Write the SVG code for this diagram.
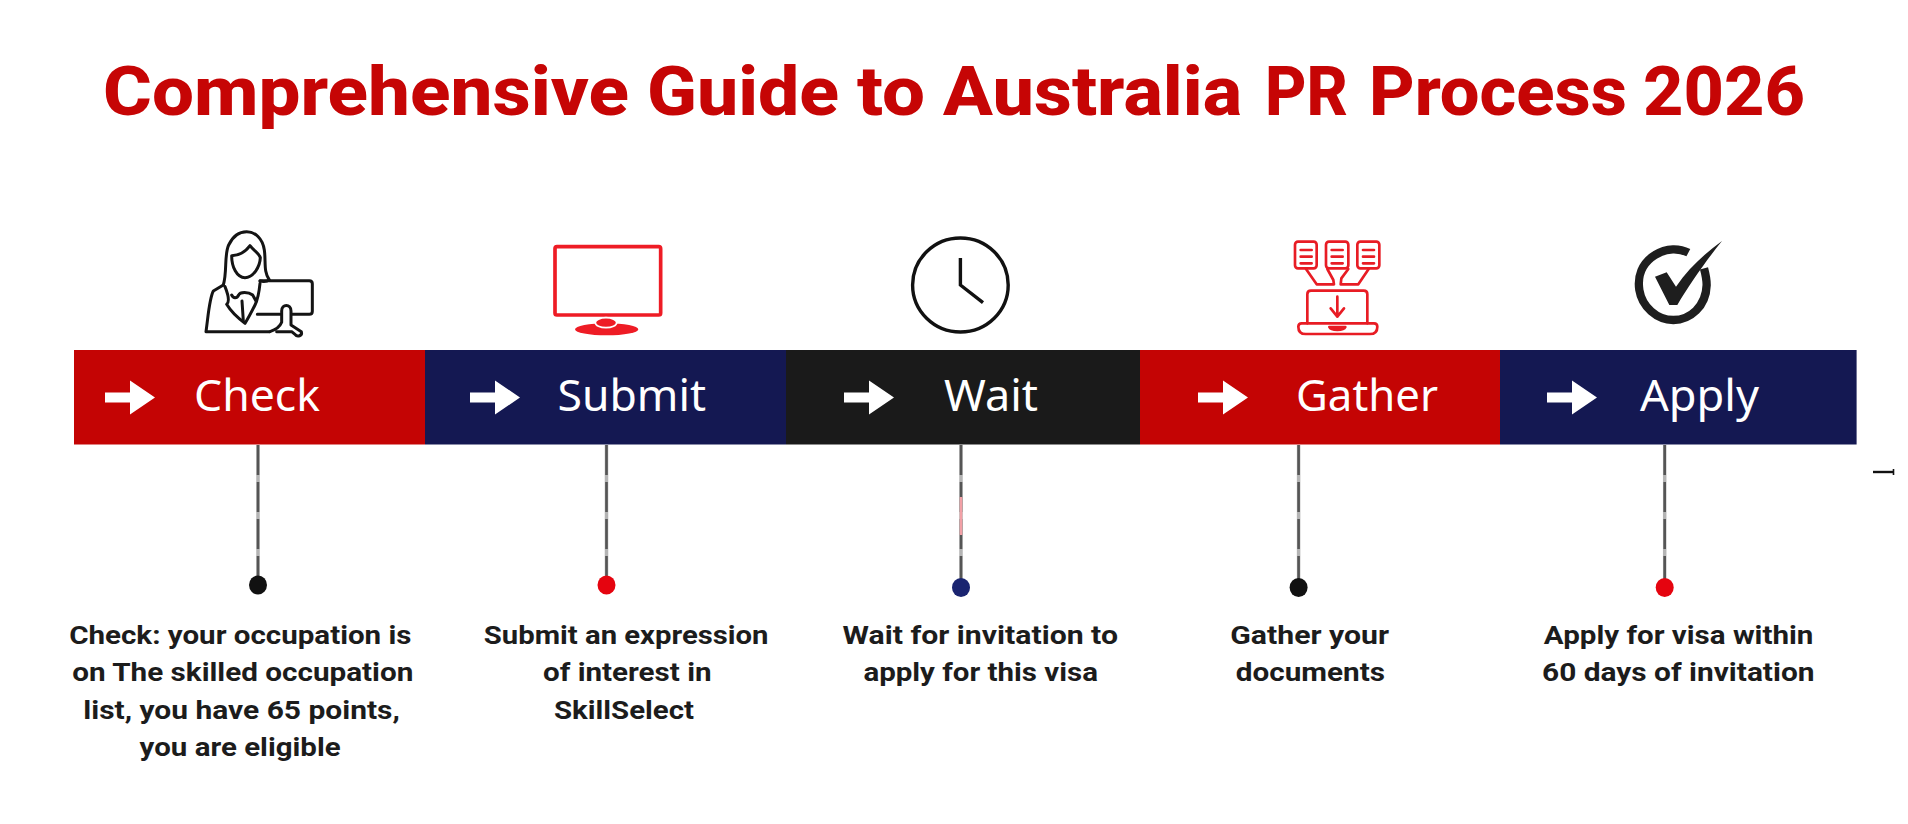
<svg xmlns="http://www.w3.org/2000/svg" width="1908" height="824" viewBox="0 0 1908 824">
<style>
.t{font-family:Roboto,"Liberation Sans",sans-serif}
.title{font-size:69px;font-weight:800;fill:#c60505}
.lab{font-family:"Noto Sans","Liberation Sans",sans-serif;font-size:44px;font-weight:400;fill:#fff}
.d{font-size:26.5px;font-weight:700;fill:#1c1c1c}
.base{stroke:#b4b4b4;stroke-width:3.5;fill:none}
.conn{stroke:#555;stroke-width:2.6;stroke-dasharray:30 7;fill:none}
.ik{fill:none;stroke:#141414;stroke-linecap:round;stroke-linejoin:round}
.ir{fill:none;stroke:#e81c24;stroke-linecap:round;stroke-linejoin:round}
</style>
<defs>
<polygon id="arr" points="0,-5 25,-5 25,-17 50,0 25,17 25,5 0,5" fill="#fff"/>
</defs>
<rect width="1908" height="824" fill="#fff"/>
<text id="title" class="t title" y="115"><tspan x="103" textLength="526" lengthAdjust="spacingAndGlyphs">Comprehensive</tspan> <tspan x="647" textLength="192" lengthAdjust="spacingAndGlyphs">Guide</tspan> <tspan x="857" textLength="68" lengthAdjust="spacingAndGlyphs">to</tspan> <tspan x="943" textLength="299" lengthAdjust="spacingAndGlyphs">Australia</tspan> <tspan x="1265" textLength="83" lengthAdjust="spacingAndGlyphs">PR</tspan> <tspan x="1369" textLength="258" lengthAdjust="spacingAndGlyphs">Process</tspan> <tspan x="1643" textLength="162" lengthAdjust="spacingAndGlyphs">2026</tspan></text>

<g id="connectors">
<path class="base" d="M258 445V580M606.5 445V580M961 445V582M1298.6 445V582M1664.7 445V582"/>
<path class="conn" d="M258 445V580M606.5 445V580M961 445V582M1298.6 445V582M1664.7 445V582"/>
<path d="M961 497V535" fill="none" stroke="#f2a0a6" stroke-width="2.6"/>
</g>

<g id="node-check">
<g transform="translate(180,215) scale(.33333)" class="ik" stroke-width="9">
<path d="M130 210C142 170 132 120 146 90C160 60 180 50 200 50C225 50 248 70 253 105C258 140 250 170 268 195C260 200 250 200 240 198"/>
<path d="M155 122C180 122 195 112 210 92C222 108 238 115 241 128C240 155 220 188 195 188C170 188 155 155 155 122Z"/>
<path d="M130 210L100 228C88 250 85 300 78 350H268"/>
<path d="M240 197H388Q397 197 397 206V289Q397 298 388 298H335M232 298H300"/>
<path d="M270 350C285 345 300 335 305 322V288C305 266 333 266 333 288V330L364 350C368 362 352 368 345 358L335 350H290"/>
<path d="M135 215C145 240 150 260 140 268C150 285 175 310 195 325C205 310 215 290 225 270C235 250 238 225 240 205"/>
<path d="M155 240C160 250 170 252 176 240C180 230 205 230 218 240L228 258"/>
<path d="M186 258L190 318"/>
</g>
<rect x="74" y="350" width="351" height="94.5" fill="#c40404"/>
<use href="#arr" x="105" y="397.5"/>
<text class="t lab" x="194" y="411" textLength="126" lengthAdjust="spacingAndGlyphs">Check</text>
<ellipse cx="258" cy="585" rx="9" ry="9.5" fill="#111"/>
<text class="t d" x="69.2" y="643.5" textLength="342.3" lengthAdjust="spacingAndGlyphs">Check: your occupation is</text>
<text class="t d" x="72.3" y="681" textLength="341" lengthAdjust="spacingAndGlyphs">on The skilled occupation</text>
<text class="t d" x="83.3" y="718.5" textLength="316.6" lengthAdjust="spacingAndGlyphs">list, you have 65 points,</text>
<text class="t d" x="139.6" y="755.5" textLength="201" lengthAdjust="spacingAndGlyphs">you are eligible</text>
</g>

<g id="node-submit">
<g transform="translate(545,235) scale(.33333)">
<rect x="30" y="35" width="317" height="205" rx="6" fill="none" stroke="#ee1c25" stroke-width="11"/>
<ellipse cx="185" cy="283" rx="95" ry="18" fill="#ee1c25"/>
<ellipse cx="183" cy="263" rx="32" ry="15" fill="#ee1c25" stroke="#fff" stroke-width="5"/>
</g>
<rect x="425" y="350" width="361" height="94.5" fill="#141852"/>
<use href="#arr" x="470" y="397.5"/>
<text class="t lab" x="557.5" y="411" textLength="148.5" lengthAdjust="spacingAndGlyphs">Submit</text>
<ellipse cx="606.5" cy="585" rx="9" ry="9.5" fill="#e5040f"/>
<text class="t d" x="483.8" y="643.5" textLength="284.7" lengthAdjust="spacingAndGlyphs">Submit an expression</text>
<text class="t d" x="543" y="681" textLength="168.6" lengthAdjust="spacingAndGlyphs">of interest in</text>
<text class="t d" x="554" y="718.5" textLength="140" lengthAdjust="spacingAndGlyphs">SkillSelect</text>
</g>

<g id="node-wait">
<ellipse cx="960.4" cy="285" rx="47.8" ry="47" fill="none" stroke="#111" stroke-width="3.4"/>
<path d="M960.4 258V285L983 302.7" fill="none" stroke="#111" stroke-width="3.4"/>
<rect x="786" y="350" width="354" height="94.5" fill="#1a1a1a"/>
<use href="#arr" x="844" y="397.5"/>
<text class="t lab" x="944" y="411" textLength="94" lengthAdjust="spacingAndGlyphs">Wait</text>
<ellipse cx="961" cy="587.5" rx="9" ry="9.5" fill="#1a2470"/>
<text class="t d" x="842.6" y="643.5" textLength="275.4" lengthAdjust="spacingAndGlyphs">Wait for invitation to</text>
<text class="t d" x="863.4" y="681" textLength="234.6" lengthAdjust="spacingAndGlyphs">apply for this visa</text>
</g>

<g id="node-gather">
<g transform="translate(1270,225) scale(.33333)" class="ir" stroke-width="8">
<rect x="75" y="50" width="65" height="80" rx="9"/>
<rect x="168" y="50" width="67" height="80" rx="9"/>
<rect x="262" y="50" width="66" height="80" rx="9"/>
<path d="M92 75H125M92 95H125M92 115H125M185 75H218M185 95H218M185 115H218M279 75H312M279 95H312M279 115H312"/>
<path d="M108 132L140 178H192L190 165L172 132M235 132L214 160L212 178H265L296 132"/>
<path d="M112 295V208Q112 197 123 197H281Q292 197 292 208V295"/>
<path d="M95 295H312Q322 295 322 305Q322 327 300 327H107Q85 327 85 305Q85 295 95 295Z"/>
<path d="M178 306H226Q222 315 202 315Q182 315 178 306Z" fill="#e81c24"/>
<path d="M202 215V275M182 250L202 275L222 250"/>
</g>
<rect x="1140" y="350" width="360" height="94.5" fill="#c40404"/>
<use href="#arr" x="1198" y="397.5"/>
<text class="t lab" x="1296" y="411" textLength="142" lengthAdjust="spacingAndGlyphs">Gather</text>
<ellipse cx="1298.6" cy="587.5" rx="9" ry="9.5" fill="#111"/>
<text class="t d" x="1230.3" y="643.5" textLength="158.7" lengthAdjust="spacingAndGlyphs">Gather your</text>
<text class="t d" x="1235.8" y="681" textLength="149.2" lengthAdjust="spacingAndGlyphs">documents</text>
</g>

<g id="node-apply">
<g transform="translate(1620,230) scale(.33333)">
<path d="M205 68C180 55 140 52 105 75C65 100 52 140 58 180C66 230 110 270 160 270C210 270 258 230 260 165C260 145 256 130 252 115" fill="none" stroke="#1e1e1e" stroke-width="25"/>
<path d="M105 140L140 127L168 170C205 115 255 70 306 33C260 90 210 160 172 225H148Z" fill="#1e1e1e"/>
</g>
<rect x="1500" y="350" width="356.6" height="94.5" fill="#141852"/>
<use href="#arr" x="1547" y="397.5"/>
<text class="t lab" x="1640" y="411" textLength="119" lengthAdjust="spacingAndGlyphs">Apply</text>
<ellipse cx="1664.7" cy="587.5" rx="9" ry="9.5" fill="#e5040f"/>
<text class="t d" x="1543.8" y="643.5" textLength="269.5" lengthAdjust="spacingAndGlyphs">Apply for visa within</text>
<text class="t d" x="1542" y="681" textLength="272.5" lengthAdjust="spacingAndGlyphs">60 days of invitation</text>
</g>

<path d="M1873 472H1893" fill="none" stroke="#111" stroke-width="2.4"/>
<path d="M1893.5 469V475" fill="none" stroke="#111" stroke-width="1.6"/>
</svg>
